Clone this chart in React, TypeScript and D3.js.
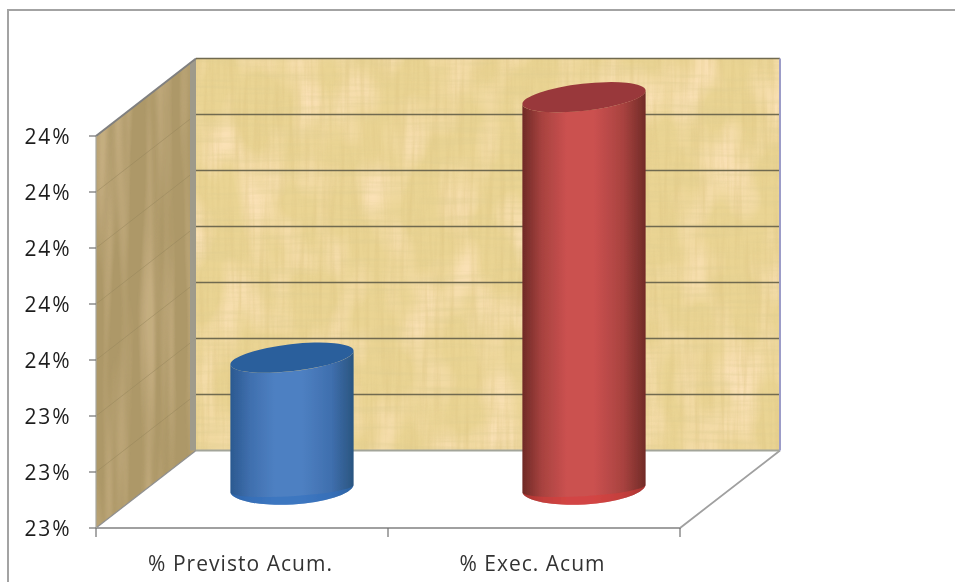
import React from "react";
import * as d3 from "d3";

const categories = ["% Previsto Acum.", "% Exec. Acum"];
const categoryWidths = [184, 145];
const seriesValues = [23.435, 23.9];
const tickValues = [23.2, 23.3, 23.4, 23.5, 23.6, 23.7, 23.8, 23.9];
const tickLabels = ["23%", "23%", "23%", "24%", "24%", "24%", "24%", "24%"];
const palettes = [
  { id: "blue", edgeL: "#2b5990", quarter: "#3f6fae", mid: "#4e80c2", edgeR: "#2a5580", top: "#2b5f9c", lip: "#2f6fc0" },
  { id: "red", edgeL: "#6f2a26", quarter: "#a8423f", mid: "#cb5150", edgeR: "#712b27", top: "#99393a", lip: "#d83c3b" },
];

const W = 955;
const H = 582;
const y = d3.scaleLinear().domain([23.2, 23.9]).range([528, 136]);
const x = d3.scaleBand<string>().domain(categories).range([96, 680]);
const depthX = 100;
const depthY = -77.5;
const a = 62;
const b = 13.5;
const thetaDeg = -6.5;
const th = (thetaDeg * Math.PI) / 180;
const tanX = Math.sqrt(a * a * Math.cos(th) ** 2 + b * b * Math.sin(th) ** 2);
const tanY = (Math.abs(Math.sin(th) * Math.cos(th)) * (a * a - b * b)) / tanX;

function Cylinder({ cat, value, p }: { cat: string; value: number; p: (typeof palettes)[number] }) {
  const cx = (x(cat) as number) + x.bandwidth() / 2 + depthX / 2;
  const cyTop = y(value) + depthY / 2;
  const cyBase = y(23.2) + depthY / 2;
  const lx = cx - tanX;
  const rx = cx + tanX;
  const baseL = cyBase + 3.5;
  const baseR = cyBase - 4;
  const body = `M${lx},${cyTop + tanY} L${lx},${baseL} A${a},17 -3.5 0 0 ${rx},${baseR} L${rx},${cyTop - tanY} A${a},${b} ${thetaDeg} 0 1 ${lx},${cyTop + tanY} Z`;
  const lip = `M${lx},${baseL} A${a},17 -3.5 0 0 ${rx},${baseR} A${a},8 -3.5 0 1 ${lx},${baseL} Z`;
  return (
    <g>
      <path d={body} fill={`url(#grad-${p.id})`} />
      <path d={lip} fill={p.lip} opacity={0.55} />
      <ellipse cx={cx} cy={cyTop} rx={a} ry={b} fill={p.top} transform={`rotate(${thetaDeg} ${cx} ${cyTop})`} />
    </g>
  );
}

export default function App() {
  const yTop = y(23.9);
  const yBot = y(23.2);
  const xL = 96;
  const xR = 680;
  const wall = `${xL},${yTop} ${xL + depthX},${yTop + depthY} ${xL + depthX},${yBot + depthY} ${xL},${yBot}`;
  const floor = `${xL},${yBot} ${xR},${yBot} ${xR + depthX},${yBot + depthY} ${xL + depthX},${yBot + depthY}`;
  const backProps = { x: xL + depthX, y: yTop + depthY, width: xR - xL, height: yBot - yTop };
  return (
    <svg width={W} height={H} style={{ position: "absolute", left: 0, top: 0, background: "#fff" }}>
      <defs>
        <filter id="soft" x="-2%" y="-2%" width="104%" height="104%">
          <feGaussianBlur stdDeviation="0.7" />
        </filter>
        <filter id="vStreak" x="0" y="0" width="100%" height="100%">
          <feTurbulence type="fractalNoise" baseFrequency="0.2 0.012" numOctaves={3} seed={4} />
          <feColorMatrix values="0 0 0 0 0.72  0 0 0 0 0.55  0 0 0 0 0.22  2.2 0 0 0 -0.9" />
        </filter>
        <filter id="hStreak" x="0" y="0" width="100%" height="100%">
          <feTurbulence type="fractalNoise" baseFrequency="0.012 0.22" numOctaves={3} seed={9} />
          <feColorMatrix values="0 0 0 0 0.72  0 0 0 0 0.6  0 0 0 0 0.28  2.2 0 0 0 -0.9" />
        </filter>
        <filter id="warm" x="0" y="0" width="100%" height="100%">
          <feTurbulence type="fractalNoise" baseFrequency="0.025 0.015" numOctaves={2} seed={21} />
          <feColorMatrix values="0 0 0 0 0.97  0 0 0 0 0.76  0 0 0 0 0.48  2.6 0 0 0 -1.1" />
        </filter>
        <filter id="wallStreak" x="0" y="0" width="100%" height="100%">
          <feTurbulence type="fractalNoise" baseFrequency="0.07 0.004" numOctaves={2} seed={7} />
          <feColorMatrix values="0 0 0 0 0.66  0 0 0 0 0.5  0 0 0 0 0.28  2.6 0 0 0 -1.1" />
        </filter>
        <clipPath id="wallClip">
          <polygon points={wall} />
        </clipPath>
        {palettes.map((p) => (
          <linearGradient key={p.id} id={`grad-${p.id}`} x1="0" x2="1" y1="0" y2="0">
            <stop offset="0" stopColor={p.edgeL} />
            <stop offset="0.16" stopColor={p.quarter} />
            <stop offset="0.36" stopColor={p.mid} />
            <stop offset="0.58" stopColor={p.mid} />
            <stop offset="0.82" stopColor={p.quarter} />
            <stop offset="1" stopColor={p.edgeR} />
          </linearGradient>
        ))}
      </defs>

      <g filter="url(#soft)">
        <rect x={8} y={10} width={W + 20} height={H + 20} fill="#fff" stroke="#a3a3a3" strokeWidth={2} />

        {/* back wall */}
        <rect {...backProps} fill="#ead493" />
        <rect {...backProps} filter="url(#warm)" />
        <rect {...backProps} filter="url(#vStreak)" opacity={0.45} />
        <rect {...backProps} filter="url(#hStreak)" opacity={0.4} />

        {/* side wall */}
        <g clipPath="url(#wallClip)">
          <rect x={xL} y={yTop + depthY} width={depthX} height={yBot - yTop - depthY} fill="#ad9868" />
          <rect x={xL} y={yTop + depthY} width={depthX} height={yBot - yTop - depthY} filter="url(#wallStreak)" opacity={0.6} />
          {tickValues.map((t) => (
            <line key={t} x1={xL} x2={xL + depthX} y1={y(t)} y2={y(t) + depthY} stroke="#97865c" strokeWidth={1} opacity={0.5} />
          ))}
          <rect x={xL + depthX - 6} y={yTop + depthY} width={6} height={yBot - yTop} fill="#9c9a8e" opacity={0.9} />
        </g>

        {/* floor */}
        <polygon points={floor} fill="#fff" />
        <polyline
          points={`${xL},${yBot} ${xR},${yBot} ${xR + depthX},${yBot + depthY}`}
          fill="none"
          stroke="#a0a0a0"
          strokeWidth={1.8}
        />
        <line x1={xL} x2={xL + depthX} y1={yBot} y2={yBot + depthY} stroke="#8f8f8f" strokeWidth={1.2} />
        <line x1={xL} x2={xL + depthX} y1={yTop} y2={yTop + depthY} stroke="#808080" strokeWidth={2} />
        <line x1={xL} x2={xL} y1={yTop} y2={yBot} stroke="#a8a8a0" strokeWidth={1.2} />

        {/* grid lines */}
        {tickValues.map((t, i) => (
          <line
            key={t}
            x1={xL + depthX}
            x2={xR + depthX}
            y1={y(t) + depthY}
            y2={y(t) + depthY}
            stroke={i === 0 ? "#a3a59a" : "#6f6a50"}
            strokeWidth={i === 0 ? 2 : 1.4}
          />
        ))}
        <line x1={xR + depthX} x2={xR + depthX} y1={yTop + depthY} y2={yBot + depthY} stroke="#9c9cc8" strokeWidth={2} />

        {/* axis ticks */}
        {tickValues.map((t) => (
          <line key={t} x1={xL - 7} x2={xL} y1={y(t)} y2={y(t)} stroke="#707070" strokeWidth={1.2} />
        ))}
        {[xL, xL + x.bandwidth(), xR].map((tx) => (
          <line key={tx} x1={tx} x2={tx} y1={yBot} y2={yBot + 9} stroke="#707070" strokeWidth={1.2} />
        ))}

        {categories.map((c, i) => (
          <Cylinder key={c} cat={c} value={seriesValues[i]} p={palettes[i]} />
        ))}

        {tickValues.map((t, i) => (
          <text key={t} x={69.5} y={y(t)} dy="0.37em" textAnchor="end" fontFamily="'Open Sans'" fontSize={21} fill="#1f1f1f" textLength={45} lengthAdjust="spacing">
            {tickLabels[i]}
          </text>
        ))}
        {categories.map((c, i) => (
          <text key={c} x={(x(c) as number) + x.bandwidth() / 2 - 2} y={571} textAnchor="middle" fontFamily="'Open Sans'" fontSize={21} fill="#333" textLength={categoryWidths[i]} lengthAdjust="spacing">
            {c}
          </text>
        ))}
      </g>
    </svg>
  );
}
